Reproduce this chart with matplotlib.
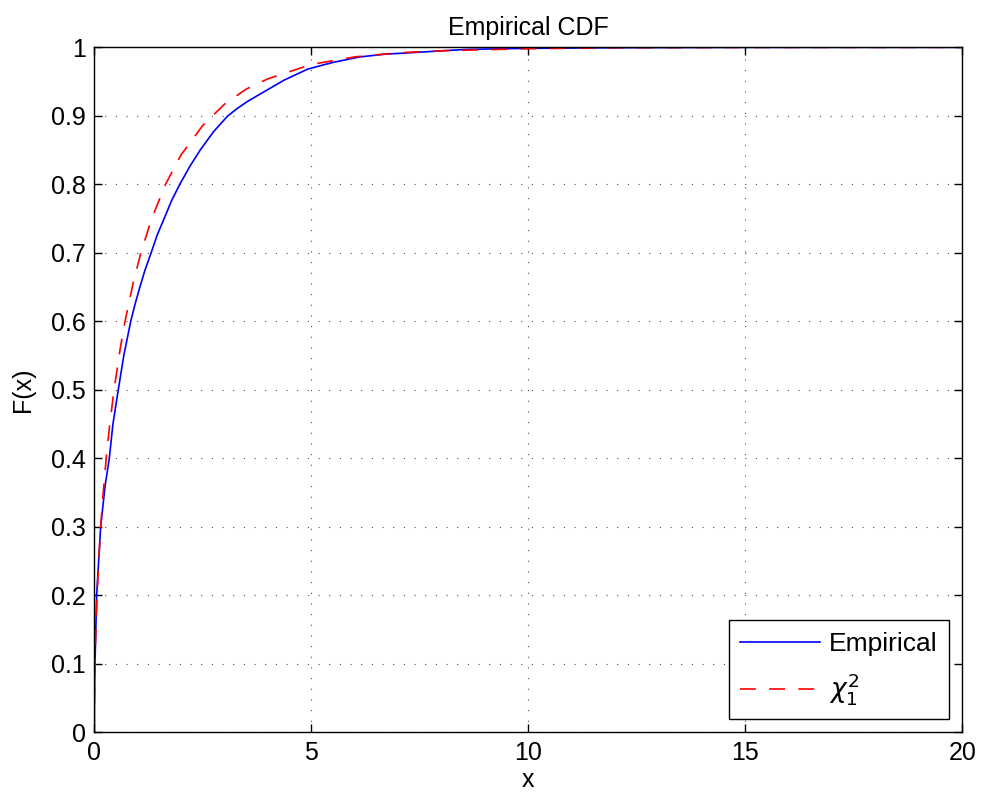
import matplotlib
matplotlib.use("Agg")
import matplotlib.pyplot as plt

plt.rcParams['font.family'] = ['Liberation Sans', 'DejaVu Sans']
plt.rcParams['mathtext.fontset'] = 'dejavusans'

# empirical cdf
emp_x = [0, 0.005, 0.016, 0.055, 0.147, 0.25, 0.346, 0.43, 0.553, 0.68, 0.84, 0.94, 1.05, 1.17, 1.31,
         1.45, 1.61, 1.78, 1.97, 2.2, 2.44, 2.75, 3.07, 3.3, 3.53, 3.99, 4.37, 4.91, 5.2, 5.5, 6.12,
         6.7, 7.43, 8.58, 9.96, 12, 15, 20]
emp_y = [0, 0.05, 0.1, 0.2, 0.3, 0.36, 0.4, 0.45, 0.5, 0.55, 0.6, 0.625, 0.65, 0.675, 0.7,
         0.726, 0.75, 0.776, 0.8, 0.826, 0.85, 0.877, 0.8995, 0.911, 0.921, 0.938, 0.952, 0.968, 0.973, 0.978, 0.986,
         0.99, 0.9927, 0.997, 0.9985, 0.9994, 0.9999, 1.0]

# chi-square (1 dof) curve
chi_x = [0, 0.0005, 0.002, 0.01, 0.03, 0.064, 0.1, 0.148, 0.2, 0.275, 0.35, 0.455, 0.6, 0.708,
         0.9, 1.074, 1.323, 1.642, 2.0, 2.5, 3.0, 3.5, 4.0, 5.0, 6.0, 7.0, 8.0, 10, 12, 15, 20]
chi_y = [0, 0.018, 0.036, 0.08, 0.137, 0.2, 0.248, 0.3, 0.345, 0.4, 0.446, 0.5, 0.561, 0.6,
         0.657, 0.7, 0.75, 0.8, 0.843, 0.886, 0.917, 0.939, 0.954, 0.975, 0.986, 0.992, 0.995, 0.998, 0.9995, 0.9999, 1.0]

xticks = [0, 5, 10, 15, 20]
yticks = [0, 0.1, 0.2, 0.3, 0.4, 0.5, 0.6, 0.7, 0.8, 0.9, 1]
ytick_labels = ['0', '0.1', '0.2', '0.3', '0.4', '0.5', '0.6', '0.7', '0.8', '0.9', '1']

fig = plt.figure(figsize=(9.81, 8.05), dpi=100)
ax = fig.add_axes([0.0961, 0.0903, 0.8848, 0.8509])

ax.plot(emp_x, emp_y, color='blue', lw=1.2, label='Empirical')
ax.plot(chi_x, chi_y, color='red', lw=1.2, linestyle=(0, (9.5, 8)), label=r'$\chi_1^2$')

ax.set_xlim(0, 20)
ax.set_ylim(0, 1)
ax.set_xticks(xticks)
ax.set_xticklabels([str(t) for t in xticks])
ax.set_yticks(yticks)
ax.set_yticklabels(ytick_labels)
ax.tick_params(axis='both', which='major', direction='in', length=6, width=1,
               labelsize=18, pad=6, top=True, right=True)
for s in ax.spines.values():
    s.set_linewidth(1.0)

ax.grid(True, color='0.3', lw=0.8, linestyle=(0, (1, 8.6)))

ax.set_title('Empirical CDF', fontsize=18, pad=9)
ax.set_xlabel('x', fontsize=18)
ax.set_ylabel('F(x)', fontsize=18)
ax.xaxis.set_label_coords(0.5, -0.052)
ax.yaxis.set_label_coords(-0.068, 0.5)

leg = ax.legend(loc='lower right', fontsize=19, handlelength=3.0, handletextpad=0.34,
                borderpad=0.45, borderaxespad=0.5, labelspacing=0.57, fancybox=False,
                framealpha=1, edgecolor='black')
leg.get_frame().set_linewidth(1.0)

plt.savefig('out.png', dpi=100)
